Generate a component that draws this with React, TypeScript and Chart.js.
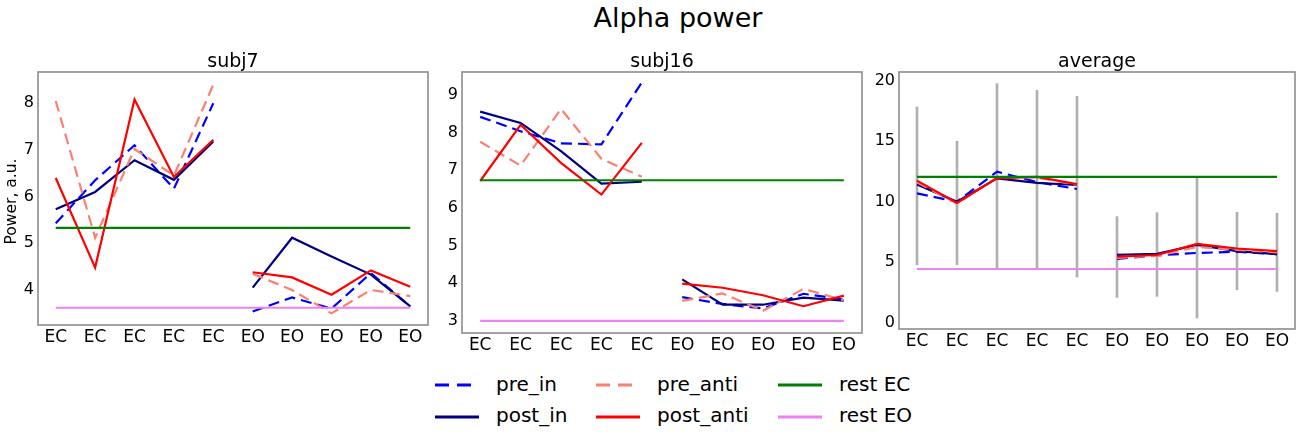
import { useEffect, useRef } from 'react';
import { Chart, registerables } from 'chart.js';

Chart.register(...registerables);

const FONT = "'DejaVu Sans', 'Liberation Sans', sans-serif";

// shared x categories (5 eyes-closed then 5 eyes-open blocks)
const xLabels = ['EC', 'EC', 'EC', 'EC', 'EC', 'EO', 'EO', 'EO', 'EO', 'EO'];
const ecCount = 5;

// subj7
const subj7PreIn = [5.43, 6.35, 7.1, 6.17, 8.0, 3.54, 3.84, 3.6, 4.36, 3.65];
const subj7PostIn = [5.73, 6.1, 6.78, 6.36, 7.18, 4.05, 5.12, 4.72, 4.33, 3.65];
const subj7PreAnti = [8.05, 5.12, 7.02, 6.45, 8.4, 4.35, 4.0, 3.5, 4.0, 3.87];
const subj7PostAnti = [6.4, 4.48, 8.08, 6.42, 7.22, 4.38, 4.27, 3.9, 4.42, 4.07];
const subj7RestEC = 5.33;
const subj7RestEO = 3.62;
const subj7YTicks = [4, 5, 6, 7, 8];

// subj16
const subj16PreIn = [8.41, 8.03, 7.71, 7.68, 9.32, 3.63, 3.45, 3.33, 3.72, 3.57];
const subj16PostIn = [8.55, 8.25, 7.5, 6.64, 6.69, 4.1, 3.43, 3.43, 3.62, 3.54];
const subj16PreAnti = [7.75, 7.12, 8.62, 7.3, 6.82, 3.53, 3.73, 3.27, 3.85, 3.55];
const subj16PostAnti = [6.71, 8.2, 7.19, 6.35, 7.72, 3.99, 3.88, 3.68, 3.39, 3.67];
const subj16RestEC = 6.73;
const subj16RestEO = 3.0;
const subj16YTicks = [3, 4, 5, 6, 7, 8, 9];

// average
const avgPreIn = [10.68, 10.0, 12.48, 11.62, 11.05, 5.25, 5.55, 5.75, 5.85, 5.65];
const avgPostIn = [11.43, 10.0, 11.93, 11.55, 11.38, 5.59, 5.67, 6.42, 5.9, 5.65];
const avgPreAnti = [11.6, 9.85, 12.0, 12.0, 11.4, 5.35, 5.5, 6.25, 6.0, 5.8];
const avgPostAnti = [11.74, 9.9, 11.95, 12.05, 11.45, 5.45, 5.58, 6.5, 6.12, 5.9];
const avgRestEC = 12.05;
const avgRestEO = 4.42;
const avgErrLow = [4.77, 4.77, 4.49, 4.35, 3.75, 2.07, 2.15, 0.36, 2.7, 2.56];
const avgErrHigh = [17.85, 15.0, 19.78, 19.23, 18.73, 8.76, 9.09, 12.07, 9.12, 9.04];
const avgYTicks = [0, 5, 10, 15, 20];

const styles = {
  preIn: { label: 'pre_in', color: '#0000ff', dashed: true },
  postIn: { label: 'post_in', color: '#000080', dashed: false },
  preAnti: { label: 'pre_anti', color: '#fa8072', dashed: true },
  postAnti: { label: 'post_anti', color: '#ff0000', dashed: false },
  restEC: { label: 'rest EC', color: '#008000', dashed: false },
  restEO: { label: 'rest EO', color: '#ee82ee', dashed: false },
};

// frame, subplot title and y-axis label, drawn like matplotlib does
const panelDecor = {
  id: 'panelDecor',
  afterDatasetsDraw(chart: any, _args: any, opts: any) {
    const { ctx, chartArea: a } = chart;
    ctx.save();
    ctx.strokeStyle = '#8c8c8c';
    ctx.lineWidth = 1.6;
    ctx.strokeRect(a.left, a.top, a.right - a.left, a.bottom - a.top);
    ctx.fillStyle = '#000';
    ctx.font = `19px ${FONT}`;
    ctx.textAlign = 'center';
    ctx.textBaseline = 'alphabetic';
    ctx.fillText(opts.text, (a.left + a.right) / 2, a.top - 5);
    if (opts.yTitle) {
      ctx.translate(12, (a.top + a.bottom) / 2 + 3);
      ctx.rotate(-Math.PI / 2);
      ctx.font = `15.5px ${FONT}`;
      ctx.textBaseline = 'middle';
      ctx.fillText(opts.yTitle, 0, 0);
    }
    ctx.restore();
  },
};

interface PanelProps {
  title: string;
  preIn: number[];
  postIn: number[];
  preAnti: number[];
  postAnti: number[];
  restEC: number;
  restEO: number;
  errLow?: number[];
  errHigh?: number[];
  yMin: number;
  yMax: number;
  yTicks: number[];
  yTitle?: string;
  left: number;
  width: number;
  height: number;
  axisWidth: number;
  padRight: number;
}

const Panel = (p: PanelProps) => {
  const ref = useRef<HTMLCanvasElement>(null);

  useEffect(() => {
    if (!ref.current) return;

    const pts = (vals: number[]) => vals.map((y, i) => ({ x: i, y }));
    const hline = (v: number) => [{ x: 0, y: v }, { x: xLabels.length - 1, y: v }];
    const line = (key: keyof typeof styles, data: any[], order: number, split: boolean) => ({
      type: 'line',
      label: styles[key].label,
      data,
      borderColor: styles[key].color,
      borderWidth: 2.2,
      borderDash: styles[key].dashed ? [11, 6] : [],
      pointRadius: 0,
      tension: 0,
      fill: false,
      order,
      segment: split
        ? { borderColor: (c: any) => (c.p1DataIndex === ecCount ? 'transparent' : undefined) }
        : undefined,
    });

    const datasets: any[] = [
      line('preIn', pts(p.preIn), 5, true),
      line('postIn', pts(p.postIn), 4, true),
      line('preAnti', pts(p.preAnti), 3, true),
      line('postAnti', pts(p.postAnti), 2, true),
      line('restEC', hline(p.restEC), 1, false),
      line('restEO', hline(p.restEO), 0, false),
    ];
    if (p.errLow && p.errHigh) {
      const hi = p.errHigh;
      datasets.push({
        type: 'bar',
        label: 'sd',
        data: p.errLow.map((lo, i) => ({ x: i, y: [lo, hi[i]] })),
        backgroundColor: '#b0b0b0',
        barThickness: 2,
        order: 10,
      });
    }

    const chart = new Chart(ref.current, {
      type: 'line',
      data: { datasets },
      plugins: [panelDecor],
      options: {
        animation: false,
        responsive: false,
        layout: { padding: { top: 72, right: p.padRight, bottom: 0, left: 0 } },
        plugins: {
          legend: { display: false },
          tooltip: { enabled: false },
          panelDecor: { text: p.title, yTitle: p.yTitle },
        } as any,
        scales: {
          x: {
            type: 'linear',
            min: -0.45,
            max: xLabels.length - 1 + 0.45,
            offset: false,
            grid: { display: false, drawTicks: false },
            border: { display: false },
            afterBuildTicks: (axis: any) => {
              axis.ticks = xLabels.map((_, i) => ({ value: i }));
            },
            afterFit: (axis: any) => {
              axis.height = 35;
            },
            ticks: {
              callback: (v: any) => xLabels[v] ?? '',
              autoSkip: false,
              maxRotation: 0,
              padding: 2,
              color: '#000',
              font: { family: FONT, size: 17 },
            },
          },
          y: {
            type: 'linear',
            min: p.yMin,
            max: p.yMax,
            grid: { display: false, drawTicks: false },
            border: { display: false },
            afterBuildTicks: (axis: any) => {
              axis.ticks = p.yTicks.map((value) => ({ value }));
            },
            afterFit: (axis: any) => {
              axis.width = p.axisWidth;
            },
            ticks: { autoSkip: false, padding: 4, color: '#000', font: { family: FONT, size: 16 } },
          },
        },
      } as any,
    });

    return () => {
      chart.destroy();
    };
  }, [p]);

  return (
    <canvas
      ref={ref}
      width={p.width}
      height={p.height}
      style={{ position: 'absolute', left: p.left, top: 0, width: p.width, height: p.height }}
    />
  );
};

const legendCols = [435, 596, 778];
const legendRows = [385, 416.5];
const legendGrid: (keyof typeof styles)[][] = [
  ['preIn', 'postIn'],
  ['preAnti', 'postAnti'],
  ['restEC', 'restEO'],
];

const Legend = () => (
  <>
    {legendGrid.map((col, ci) =>
      col.map((key, ri) => {
        const s = styles[key];
        return (
          <div
            key={key}
            style={{
              position: 'absolute',
              left: legendCols[ci],
              top: legendRows[ri] - 13,
              height: 26,
              display: 'flex',
              alignItems: 'center',
              fontFamily: FONT,
              fontSize: 20,
              color: '#000',
              whiteSpace: 'nowrap',
            }}
          >
            <svg width={44} height={8} style={{ display: 'block' }}>
              <line
                x1={0}
                y1={4}
                x2={44}
                y2={4}
                stroke={s.color}
                strokeWidth={3}
                strokeDasharray={s.dashed ? '14 8' : undefined}
              />
            </svg>
            <span style={{ marginLeft: 17, lineHeight: '26px', marginTop: -3 }}>{s.label}</span>
          </div>
        );
      }),
    )}
  </>
);

const subj7Props: PanelProps = {
  title: 'subj7',
  preIn: subj7PreIn,
  postIn: subj7PostIn,
  preAnti: subj7PreAnti,
  postAnti: subj7PostAnti,
  restEC: subj7RestEC,
  restEO: subj7RestEO,
  yMin: 3.25,
  yMax: 8.67,
  yTicks: subj7YTicks,
  yTitle: 'Power, a.u.',
  left: 0,
  width: 440,
  height: 360,
  axisWidth: 38,
  padRight: 12,
};

const subj16Props: PanelProps = {
  title: 'subj16',
  preIn: subj16PreIn,
  postIn: subj16PostIn,
  preAnti: subj16PreAnti,
  postAnti: subj16PostAnti,
  restEC: subj16RestEC,
  restEO: subj16RestEO,
  yMin: 2.68,
  yMax: 9.6,
  yTicks: subj16YTicks,
  left: 440,
  width: 430,
  height: 368,
  axisWidth: 22,
  padRight: 8,
};

const avgProps: PanelProps = {
  title: 'average',
  preIn: avgPreIn,
  postIn: avgPostIn,
  preAnti: avgPreAnti,
  postAnti: avgPostAnti,
  restEC: avgRestEC,
  restEO: avgRestEO,
  errLow: avgErrLow,
  errHigh: avgErrHigh,
  yMin: -0.55,
  yMax: 20.74,
  yTicks: avgYTicks,
  left: 870,
  width: 430,
  height: 364,
  axisWidth: 29,
  padRight: 5,
};

export default function App() {
  return (
    <div
      style={{
        position: 'fixed',
        left: 0,
        top: 0,
        width: 1300,
        height: 434,
        background: '#fff',
        overflow: 'hidden',
      }}
    >
      <div
        style={{
          position: 'absolute',
          left: 478,
          width: 400,
          top: 2,
          textAlign: 'center',
          fontFamily: FONT,
          fontSize: 27,
          color: '#000',
        }}
      >
        Alpha power
      </div>
      <Panel {...subj7Props} />
      <Panel {...subj16Props} />
      <Panel {...avgProps} />
      <Legend />
    </div>
  );
}
